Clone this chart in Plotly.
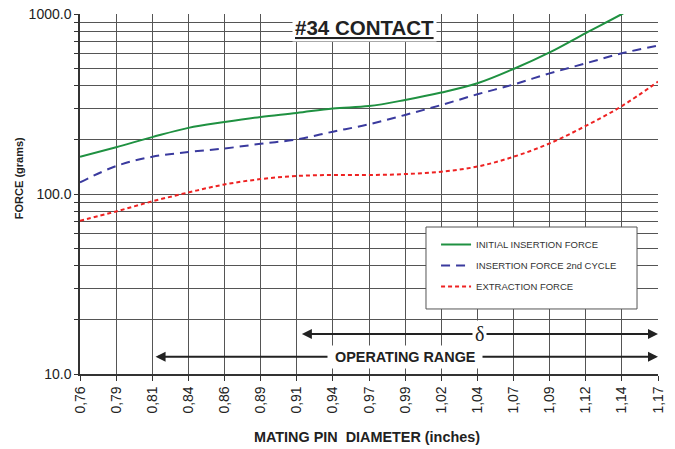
import plotly.graph_objects as go

# ---- data ----
diam_labels = ["0,76", "0,79", "0,81", "0,84", "0,86", "0,89", "0,91", "0,94", "0,97",
               "0,99", "1,02", "1,04", "1,07", "1,09", "1,12", "1,14", "1,17"]
initial_insertion = [161, 182, 207, 233, 251, 268, 282, 299, 308, 333, 366, 412, 495, 612, 784, 1000, 1300]
insertion_2nd = [116, 143, 161, 171, 179, 190, 201, 222, 244, 275, 312, 358, 406, 468, 532, 605, 667]
extraction = [71, 80, 91, 102, 113, 121, 126, 127.5, 127.5, 129, 133, 142, 161, 191, 239, 308, 421]

y_tickvals = [10, 20, 30, 40, 50, 60, 70, 80, 90,
              100, 200, 300, 400, 500, 600, 700, 800, 900, 1000]
y_ticktext = ["10.0", "", "", "", "", "", "", "", "",
              "100.0", "", "", "", "", "", "", "", "", "1000.0"]

x_pos = list(range(len(diam_labels)))

FONT = "Arial, Liberation Sans, sans-serif"

fig = go.Figure()
fig.add_trace(go.Scatter(x=x_pos, y=initial_insertion, mode="lines", name="INITIAL INSERTION FORCE",
                         line=dict(color="#1f9141", width=2, shape="spline"), legendgroup="a"))
fig.add_trace(go.Scatter(x=x_pos, y=insertion_2nd, mode="lines", name="INSERTION FORCE 2nd CYCLE",
                         line=dict(color="#3a3a9e", width=2, dash="9px,6px", shape="spline"), legendgroup="b"))
fig.add_trace(go.Scatter(x=x_pos, y=extraction, mode="lines", name="EXTRACTION FORCE",
                         line=dict(color="#ee2222", width=2, dash="4px,3px", shape="spline"), legendgroup="c"))

fig.update_layout(
    width=675, height=449,
    margin=dict(l=80, r=17, t=14, b=75),
    paper_bgcolor="white", plot_bgcolor="white",
    font=dict(family=FONT, color="#222"),
    showlegend=True,
    legend=dict(x=0.616, xanchor="left", y=0.40, yanchor="top",
                bgcolor="rgba(0,0,0,0)", borderwidth=0,
                font=dict(size=9.5, family=FONT, color="#333"),
                tracegroupgap=2),
    xaxis=dict(range=[0, 16], tickmode="array", tickvals=x_pos, ticktext=diam_labels,
               tickangle=-90, tickfont=dict(size=14, family=FONT, color="#222"),
               showgrid=True, gridcolor="#555", gridwidth=1, automargin=False,
               showline=True, linecolor="#333", linewidth=1.5, ticklabeloverflow="allow",
               ticks="outside", ticklen=5, tickcolor="#333", zeroline=False),
    yaxis=dict(type="log", range=[1, 3], tickmode="array", tickvals=y_tickvals, ticktext=y_ticktext,
               tickfont=dict(size=14, family=FONT, color="#222"),
               showgrid=True, gridcolor="#555", gridwidth=1, automargin=False,
               showline=True, linecolor="#333", linewidth=1.5, ticklabeloverflow="allow",
               ticks="outside", ticklen=4, tickcolor="#333", zeroline=False),
)

# legend frame
fig.add_shape(type="rect", xref="paper", yref="paper", x0=0.5986, x1=0.9637, y0=0.1806, y1=0.4083,
              fillcolor="white", line=dict(color="#555", width=1), layer="above")

# axis titles
fig.add_annotation(xref="paper", yref="paper", x=0.497, y=-0.175, xanchor="center", yanchor="middle",
                   text="<b>MATING PIN&nbsp; DIAMETER (inches)</b>", showarrow=False,
                   font=dict(size=14.4, family=FONT, color="#222"))
fig.add_annotation(xref="paper", yref="paper", x=-0.1055, y=0.544, xanchor="center", yanchor="middle",
                   text="<b>FORCE (grams)</b>", showarrow=False, textangle=-90,
                   font=dict(size=11, family=FONT, color="#222"))

# title box
fig.add_annotation(xref="paper", yref="paper", x=0.493, y=0.9625, xanchor="center", yanchor="middle",
                   text="<b><u>#34 CONTACT</u></b>", showarrow=False,
                   font=dict(size=20.5, family=FONT, color="#222"),
                   bgcolor="white", borderpad=2)

# arrows
y_delta = 1.222
y_op = 1.096
fig.add_annotation(x=16, y=y_delta, ax=6.1, ay=y_delta, xref="x", yref="y", axref="x", ayref="y",
                   text="", showarrow=True, arrowside="end+start", arrowhead=2, arrowsize=1,
                   arrowwidth=2, arrowcolor="#222")
fig.add_annotation(x=16, y=y_op, ax=2.05, ay=y_op, xref="x", yref="y", axref="x", ayref="y",
                   text="", showarrow=True, arrowside="end+start", arrowhead=2, arrowsize=1,
                   arrowwidth=2, arrowcolor="#222")
fig.add_annotation(x=11.05, y=y_delta, xref="x", yref="y", text="δ", showarrow=False,
                   font=dict(size=20, family="Liberation Serif, Times New Roman, serif", color="#222"),
                   bgcolor="white", borderpad=2)
fig.add_annotation(x=9, y=y_op, xref="x", yref="y", text="<b>&nbsp;OPERATING RANGE&nbsp;</b>",
                   showarrow=False, font=dict(size=14.4, family=FONT, color="#222"),
                   bgcolor="white", borderpad=3)

fig.write_html("out.html", config={"displayModeBar": False},
               post_script="document.body.style.margin='0';document.body.style.overflow='hidden';")
